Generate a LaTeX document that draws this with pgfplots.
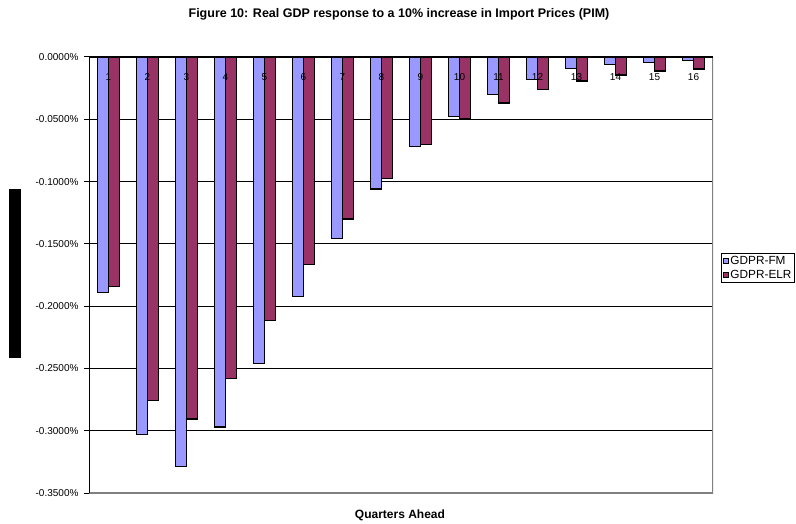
\documentclass[border=0pt]{standalone}
\usepackage{pgfplots}
\pgfplotsset{compat=1.18}
\usepackage{fontspec}
\setmainfont{Liberation Sans}
\definecolor{fmblue}{HTML}{9999FF}
\definecolor{elrpurple}{HTML}{993366}
\definecolor{framegray}{HTML}{808080}
\begin{document}
\begin{tikzpicture}
\useasboundingbox (0,0) rectangle (796pt,523pt);
\begin{axis}[
  at={(89pt,30pt)}, anchor=south west,
  scale only axis, width=624pt, height=436pt,
  xmin=0.5, xmax=16.5, ymin=-0.35, ymax=0,
  ybar=0pt, bar width=11pt,
  axis line style={draw=none},
  xtick=\empty,
  ytick={-0.35,-0.3,-0.25,-0.2,-0.15,-0.1,-0.05,0},
  ytick pos=left,
  tick align=outside,
  major tick length=5pt,
  y tick style={black, line width=1pt},
  yticklabel={\pgfmathprintnumber[fixed,fixed zerofill,precision=4]{\tick}\%},
  /pgf/number format/assume math mode=true,
  yticklabel style={font=\fontsize{10}{12}\selectfont, xshift=-2pt},
  ymajorgrids, grid style={black, line width=0.9pt},
  legend style={at={(1.0128,0.516)}, anchor=west, draw=black, line width=1pt,
    font=\fontsize{11.8}{12}\selectfont, inner sep=1.2pt, row sep=0pt,
    cells={anchor=west}},
  legend image code/.code={\draw[#1, draw=black, line width=0.8pt] (0pt,-2.5pt) rectangle (5pt,2.5pt);},
]
\addplot[fill=fmblue, draw=black, line width=1.2pt] coordinates {
(1,-0.189) (2,-0.303) (3,-0.329) (4,-0.297) (5,-0.246) (6,-0.1925) (7,-0.146) (8,-0.106)
(9,-0.072) (10,-0.048) (11,-0.030) (12,-0.018) (13,-0.0093) (14,-0.0061) (15,-0.0045) (16,-0.0029)};
\addplot[fill=elrpurple, draw=black, line width=1.2pt] coordinates {
(1,-0.1845) (2,-0.276) (3,-0.2906) (4,-0.2584) (5,-0.2118) (6,-0.1666) (7,-0.130) (8,-0.0977)
(9,-0.0704) (10,-0.0493) (11,-0.0369) (12,-0.0259) (13,-0.0193) (14,-0.0145) (15,-0.0112) (16,-0.0096)};
\legend{GDPR-FM,GDPR-ELR}
\draw[framegray, line width=1.5pt] (rel axis cs:0,0) -- (rel axis cs:1,0) -- (rel axis cs:1,1);
\draw[black, line width=1.5pt] (rel axis cs:0,0) -- (rel axis cs:0,1);
\draw[black, line width=2pt] (rel axis cs:0,1) -- (rel axis cs:1,1);
\pgfplotsinvokeforeach{1,...,16}{
  \node[font=\fontsize{10}{12}\selectfont, inner sep=0pt] at ([yshift=-20pt]axis cs:#1,0) {#1};
}
\end{axis}
\fill[black] (9pt,165pt) rectangle (21pt,334pt);
\node[font=\bfseries\fontsize{12.5}{14}\selectfont] at (399pt,509pt) {Figure 10: Real GDP response to a 10\% increase in Import Prices (PIM)};
\node[font=\bfseries\fontsize{12}{14}\selectfont] at (400pt,8pt) {Quarters Ahead};
\end{tikzpicture}
\end{document}
